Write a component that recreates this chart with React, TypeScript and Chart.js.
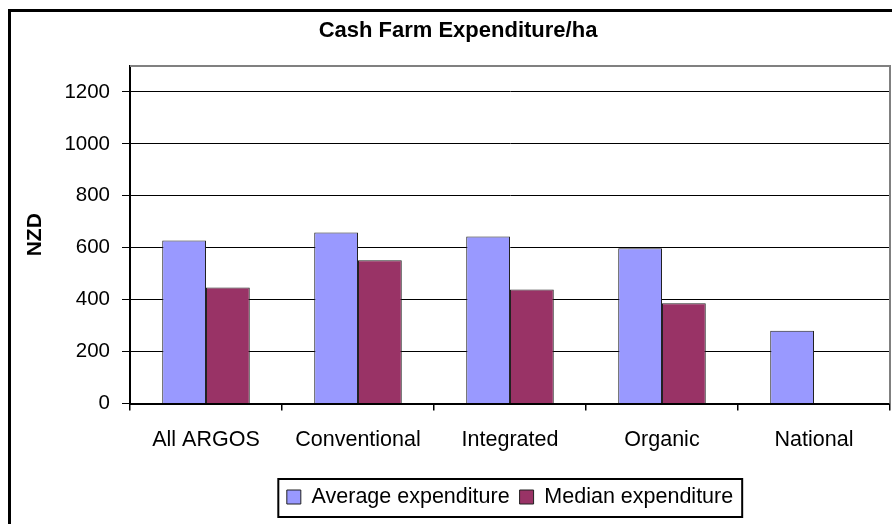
import React, { useEffect, useRef } from "react";
import { Chart, registerables } from "chart.js";

Chart.register(...registerables);

const TITLE = "Cash Farm Expenditure/ha";
const Y_LABEL = "NZD";
const CATEGORIES = ["All ARGOS", "Conventional", "Integrated", "Organic", "National"];
const SERIES_NAMES = ["Average expenditure", "Median expenditure"];
const AVERAGE = [628, 659, 643, 598, 280];
const MEDIAN: (number | null)[] = [447, 552, 439, 386, null];
const Y_MIN = 0;
const Y_MAX = 1300;
const Y_STEP = 200;

const FONT = '"Liberation Sans", Arial, Helvetica, sans-serif';
const CANVAS_W = 916;
const CANVAS_H = 524;

const decor = {
  id: "decor",
  afterDraw(chart: any) {
    const { ctx, chartArea: a, legend } = chart;
    ctx.save();
    // plot area border (top & right)
    ctx.strokeStyle = "#808080";
    ctx.lineWidth = 2;
    ctx.beginPath();
    ctx.moveTo(a.left, a.top);
    ctx.lineTo(a.right, a.top);
    ctx.lineTo(a.right, a.bottom);
    ctx.stroke();
    // outer chart frame
    ctx.strokeStyle = "#000";
    ctx.lineWidth = 3;
    ctx.strokeRect(9.5, 10.5, chart.width - 19, chart.height + 20);
    // legend frame
    if (legend && legend.legendHitBoxes && legend.legendHitBoxes.length) {
      const hb = legend.legendHitBoxes;
      const l = Math.min(...hb.map((h: any) => h.left)) - 8.5;
      const r = Math.max(...hb.map((h: any) => h.left + h.width)) + 9;
      ctx.lineWidth = 2;
      ctx.strokeRect(l, legend.top + 2.75, r - l, legend.bottom - legend.top - 3.5);
    }
    ctx.restore();
  },
};

export default function App() {
  const ref = useRef<HTMLCanvasElement | null>(null);

  useEffect(() => {
    if (!ref.current) return;
    const chart = new Chart(ref.current, {
      type: "bar",
      data: {
        labels: CATEGORIES,
        datasets: [
          {
            label: SERIES_NAMES[0],
            data: AVERAGE,
            backgroundColor: "#9999FF",
            borderColor: "#222",
            borderWidth: 1,
            categoryPercentage: 0.576,
            barPercentage: 1,
            xAxisID: "x",
            yAxisID: "y",
          },
          {
            label: SERIES_NAMES[1],
            data: MEDIAN,
            backgroundColor: "#993366",
            borderColor: "#222",
            borderWidth: 1,
            categoryPercentage: 0.576,
            barPercentage: 1,
            xAxisID: "x",
            yAxisID: "y",
          },
        ],
      },
      options: {
        responsive: false,
        animation: false,
        devicePixelRatio: 1,
        layout: { padding: { left: 0, right: 0, top: 0, bottom: 6.25 } },
        plugins: {
          title: {
            display: true,
            text: TITLE,
            color: "#000",
            font: { family: FONT, size: 22, weight: "bold" },
            padding: { top: 17.6, bottom: 22 },
          },
          legend: {
            display: true,
            position: "bottom",
            fullSize: false,
            labels: {
              color: "#000",
              font: { family: FONT, size: 21.5 },
              boxWidth: 14,
              boxHeight: 14,
              padding: 10,
            },
          },
          tooltip: { enabled: false },
        },
        scales: {
          x: {
            grid: {
              display: true,
              drawOnChartArea: false,
              drawTicks: true,
              tickLength: 7,
              color: "#000",
              lineWidth: 1.5,
              offset: true,
            },
            border: { display: true, color: "#000", width: 2 },
            ticks: {
              color: "#000",
              font: { family: FONT, size: 21.5 },
              padding: 16.3,
              maxRotation: 0,
              autoSkip: false,
            },
            afterFit: (s: any) => {
              s.height = 72.75;
            },
          },
          y: {
            min: Y_MIN,
            max: Y_MAX,
            grid: { color: "#000", lineWidth: 1, tickLength: 8, drawTicks: true },
            border: { display: true, color: "#000", width: 2 },
            ticks: {
              stepSize: Y_STEP,
              includeBounds: false,
              color: "#000",
              font: { family: FONT, size: 20.5 },
              padding: 12,
              callback: (v: any) => String(v),
            },
            title: {
              display: true,
              text: Y_LABEL,
              color: "#000",
              font: { family: FONT, size: 21, weight: "bold" },
              padding: { top: 22.9, bottom: 0 },
            },
            afterFit: (s: any) => {
              s.width = 130;
            },
          },
          yr: {
            type: "linear",
            position: "right",
            display: true,
            grid: { display: false, drawTicks: false },
            border: { display: false },
            ticks: { display: false },
            afterFit: (s: any) => {
              s.width = 26;
            },
          },
        },
      } as any,
      plugins: [decor],
    });
    return () => chart.destroy();
  }, []);

  return (
    <div
      style={{
        position: "fixed",
        left: 0,
        top: 0,
        width: 892,
        height: 524,
        overflow: "hidden",
        background: "#fff",
      }}
    >
      <canvas
        ref={ref}
        width={CANVAS_W}
        height={CANVAS_H}
        style={{ width: CANVAS_W, height: CANVAS_H, display: "block" }}
      />
    </div>
  );
}
